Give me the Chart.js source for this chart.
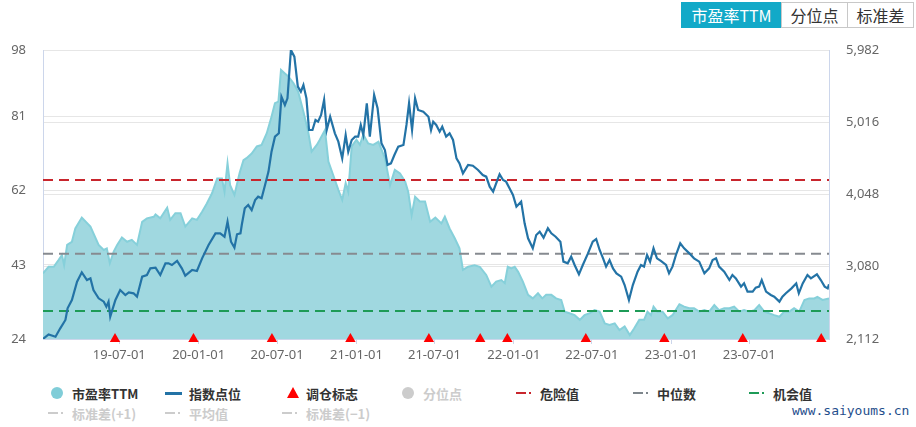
<!DOCTYPE html>
<html>
<head>
<meta charset="utf-8">
<script src="https://cdn.jsdelivr.net/npm/chart.js@4.4.0/dist/chart.umd.min.js"></script>
<style>
  body { margin: 0; width: 916px; height: 427px; background: #fff; position: relative; overflow: hidden;
         font-family: "Noto Sans CJK SC", "Noto Sans", sans-serif; }
  #wrap { position: absolute; left: 0; top: 0; width: 916px; height: 370px; }
  .tabs { position: absolute; left: 682px; top: 2px; display: flex; }
  .tab { height: 24px; line-height: 24px; border: 1px solid #c8c8c8; margin-left: -1px; text-align: center;
         font-size: 16px; color: #333; background: #fff; }
  .tab.on { background: #12a9c8; border-color: #12a9c8; color: #fff; }
  .lg { position: absolute; height: 18px; display: flex; align-items: center; font-size: 13px; font-weight: bold; color: #333; white-space: nowrap; }
  .lg.off { color: #ccc; }
  .mk { position: relative; width: 24px; height: 18px; flex: none; }
  .dot { position: absolute; left: 3px; top: 3px; width: 12px; height: 12px; border-radius: 50%; }
  .bar { position: absolute; left: 0; top: 8px; width: 17px; height: 3px; }
  .tri { position: absolute; left: 5px; top: 3px; width: 0; height: 0; border-left: 6px solid transparent;
         border-right: 6px solid transparent; border-bottom: 11px solid #f00; }
  .dash { position: absolute; left: 0; top: 8px; width: 10px; height: 2px; }
  .pt { position: absolute; left: 13px; top: 8px; width: 2px; height: 2px; }
  .wm { position: absolute; left: 792px; top: 403px; font: 13px "DejaVu Sans Mono", monospace; color: #1f4e8c; }
</style>
</head>
<body>
<div id="wrap"><canvas id="chart" width="916" height="370"></canvas></div>

<div class="tabs">
  <div class="tab on" style="width:99px">市盈率TTM</div>
  <div class="tab" style="width:65px">分位点</div>
  <div class="tab" style="width:65px">标准差</div>
</div>

<div class="lg" style="left:48px;top:384px"><span class="mk"><span class="dot" style="background:#80cdd8"></span></span>市盈率TTM</div>
<div class="lg" style="left:165px;top:384px"><span class="mk"><span class="bar" style="background:#2373a6"></span></span>指数点位</div>
<div class="lg" style="left:282px;top:384px"><span class="mk"><span class="tri"></span></span>调仓标志</div>
<div class="lg off" style="left:399px;top:384px"><span class="mk"><span class="dot" style="background:#ccc"></span></span>分位点</div>
<div class="lg" style="left:516px;top:384px"><span class="mk"><span class="dash" style="background:#c8262d"></span><span class="pt" style="background:#c8262d"></span></span>危险值</div>
<div class="lg" style="left:633px;top:384px"><span class="mk"><span class="dash" style="background:#7e868c"></span><span class="pt" style="background:#7e868c"></span></span>中位数</div>
<div class="lg" style="left:749px;top:384px"><span class="mk"><span class="dash" style="background:#1e9b57"></span><span class="pt" style="background:#1e9b57"></span></span>机会值</div>
<div class="lg off" style="left:48px;top:404px"><span class="mk"><span class="dash" style="background:#ccc"></span><span class="pt" style="background:#ccc"></span></span>标准差(+1)</div>
<div class="lg off" style="left:165px;top:404px"><span class="mk"><span class="dash" style="background:#ccc"></span><span class="pt" style="background:#ccc"></span></span>平均值</div>
<div class="lg off" style="left:282px;top:404px"><span class="mk"><span class="dash" style="background:#ccc"></span><span class="pt" style="background:#ccc"></span></span>标准差(−1)</div>
<div class="wm">www.saiyoums.cn</div>

<script>
// PE TTM (left axis)
const peDates = [
  '2019-01-05','2019-01-18','2019-01-30','2019-02-10','2019-02-18','2019-02-23','2019-03-02','2019-03-13','2019-03-21','2019-04-05',
  '2019-04-25','2019-05-14','2019-05-26','2019-06-02','2019-06-09','2019-06-18','2019-06-26','2019-07-07','2019-07-19','2019-07-30',
  '2019-08-11','2019-08-23','2019-09-03','2019-09-19','2019-09-23','2019-10-04','2019-10-20','2019-10-27','2019-11-08','2019-11-20',
  '2019-12-01','2019-12-17','2019-12-28','2020-01-09','2020-01-20','2020-02-01','2020-02-13','2020-02-24','2020-03-01','2020-03-08',
  '2020-03-14','2020-03-24','2020-04-05','2020-04-14','2020-04-21','2020-05-03','2020-05-15','2020-05-26','2020-06-07','2020-06-18',
  '2020-06-26','2020-07-04','2020-07-10','2020-07-19','2020-07-27','2020-08-08','2020-08-19','2020-08-31','2020-09-11','2020-09-19',
  '2020-10-01','2020-10-08','2020-10-20','2020-10-28','2020-11-08','2020-11-20','2020-11-29','2020-12-07','2020-12-13','2020-12-21',
  '2021-01-01','2021-01-09','2021-01-17','2021-01-28','2021-02-09','2021-02-21','2021-03-08','2021-03-20','2021-03-31','2021-04-12',
  '2021-04-24','2021-05-01','2021-05-09','2021-05-17','2021-05-28','2021-06-09','2021-06-21','2021-07-03','2021-07-17','2021-07-25',
  '2021-08-05','2021-08-17','2021-08-28','2021-09-05','2021-09-17','2021-10-02','2021-10-14','2021-10-29','2021-11-10','2021-11-21',
  '2021-12-03','2021-12-11','2021-12-18','2021-12-26','2022-01-03','2022-01-11','2022-01-22','2022-02-03','2022-02-14','2022-02-26',
  '2022-03-08','2022-03-17','2022-03-29','2022-04-09','2022-04-21','2022-04-29','2022-05-10','2022-05-22','2022-06-03','2022-06-14',
  '2022-06-26','2022-07-07','2022-07-19','2022-07-31','2022-08-11','2022-08-23','2022-09-03','2022-09-15','2022-09-27','2022-10-07',
  '2022-10-19','2022-10-30','2022-11-07','2022-11-15','2022-11-21','2022-11-30','2022-12-12','2022-12-24','2023-01-04','2023-01-20',
  '2023-01-31','2023-02-12','2023-02-23','2023-03-07','2023-03-19','2023-03-30','2023-04-11','2023-04-22','2023-05-04','2023-05-16',
  '2023-05-27','2023-06-08','2023-06-19','2023-07-01','2023-07-13','2023-07-24','2023-08-05','2023-08-16','2023-08-28','2023-09-09',
  '2023-09-20','2023-10-02','2023-10-13','2023-10-25','2023-11-06','2023-11-17','2023-11-29','2023-12-06','2023-12-18','2024-01-02'
];
const peValues = [
  40.8,42.5,42.5,44.2,45.5,42.9,48.1,48.9,52.3,55.1,
  52.8,48.1,46.8,47.2,43.4,46.4,48.1,50.0,48.9,49.4,
  48.1,54.0,54.9,55.3,55.9,54.9,57.6,54.5,56.2,56.2,
  52.8,54.9,54.5,56.6,58.7,61.3,65.1,65.1,61.7,69.0,
  63.4,60.9,66.5,69.8,70.3,71.5,73.3,73.7,76.7,80.9,
  84.4,84.8,92.9,92.0,91.2,89.5,87.3,82.2,77.1,72.0,
  73.7,75.0,77.5,69.4,66.0,62.2,59.6,63.9,61.7,73.3,
  75.0,73.7,76.3,74.1,73.7,74.5,70.3,63.4,67.3,66.4,
  64.3,61.7,55.7,60.4,59.2,59.2,54.0,55.1,53.6,55.3,
  52.3,49.8,47.2,41.7,42.5,42.9,42.5,40.4,37.4,38.7,
  39.1,38.3,42.5,42.1,42.5,41.2,38.7,35.3,34.4,35.7,
  34.4,35.3,35.3,34.4,34.0,31.0,30.6,30.1,28.9,30.1,
  30.6,31.4,31.0,28.0,27.6,28.0,26.3,27.2,25.0,26.7,
  28.9,28.9,31.0,30.1,32.3,31.0,31.0,29.3,30.1,32.9,
  32.3,31.9,31.9,31.0,31.4,31.0,32.7,31.4,31.9,31.9,
  32.3,31.0,31.4,31.0,31.4,32.7,31.0,30.6,30.1,29.7,
  31.0,31.0,31.9,31.0,34.0,34.4,34.4,34.8,34.0,34.4
];

// index level (right axis)
const idxDates = [
  '2019-01-05','2019-01-18','2019-02-03','2019-02-14','2019-02-26','2019-03-03','2019-03-13','2019-03-25','2019-04-05','2019-04-17',
  '2019-04-25','2019-05-02','2019-05-14','2019-05-26','2019-06-01','2019-06-06','2019-06-10','2019-06-22','2019-07-03','2019-07-15',
  '2019-07-23','2019-08-03','2019-08-11','2019-08-23','2019-09-03','2019-09-11','2019-09-23','2019-10-04','2019-10-16','2019-10-23',
  '2019-10-31','2019-11-12','2019-11-23','2019-12-01','2019-12-17','2019-12-28','2020-01-09','2020-01-24','2020-02-09','2020-02-20',
  '2020-03-01','2020-03-08','2020-03-16','2020-03-24','2020-03-30','2020-04-07','2020-04-10','2020-04-17','2020-04-25','2020-05-03',
  '2020-05-11','2020-05-18','2020-05-26','2020-06-03','2020-06-11','2020-06-18','2020-06-26','2020-07-05','2020-07-11','2020-07-19',
  '2020-07-25','2020-08-02','2020-08-10','2020-08-18','2020-08-25','2020-08-31','2020-09-07','2020-09-13','2020-09-21','2020-09-28',
  '2020-10-04','2020-10-11','2020-10-18','2020-10-24','2020-11-01','2020-11-12','2020-11-20','2020-11-29','2020-12-07','2020-12-13',
  '2020-12-21','2020-12-29','2021-01-05','2021-01-11','2021-01-17','2021-01-25','2021-02-01','2021-02-11','2021-02-19','2021-02-28',
  '2021-03-08','2021-03-14','2021-03-22','2021-03-30','2021-04-08','2021-04-20','2021-04-27','2021-05-03','2021-05-10','2021-05-17',
  '2021-05-24','2021-06-05','2021-06-17','2021-06-23','2021-06-28','2021-07-05','2021-07-13','2021-07-19','2021-07-28','2021-08-05',
  '2021-08-13','2021-08-21','2021-08-28','2021-09-05','2021-09-17','2021-09-28','2021-10-10','2021-10-21','2021-10-29','2021-11-06',
  '2021-11-14','2021-11-21','2021-11-29','2021-12-07','2021-12-14','2021-12-22','2021-12-30','2022-01-07','2022-01-18','2022-01-26',
  '2022-02-03','2022-02-14','2022-02-22','2022-03-02','2022-03-11','2022-03-21','2022-03-29','2022-04-08','2022-04-19','2022-04-26',
  '2022-05-06','2022-05-14','2022-05-22','2022-06-01','2022-06-10','2022-06-22','2022-07-03','2022-07-11','2022-07-19','2022-07-27',
  '2022-08-03','2022-08-11','2022-08-19','2022-08-27','2022-09-07','2022-09-15','2022-09-25','2022-10-04','2022-10-15','2022-10-23',
  '2022-10-30','2022-11-06','2022-11-13','2022-11-21','2022-11-29','2022-12-08','2022-12-20','2022-12-27','2023-01-04','2023-01-12',
  '2023-01-22','2023-01-31','2023-02-12','2023-02-23','2023-03-07','2023-03-19','2023-03-30','2023-04-07','2023-04-15','2023-04-22',
  '2023-05-04','2023-05-16','2023-05-23','2023-05-31','2023-06-12','2023-06-19','2023-06-27','2023-07-09','2023-07-16','2023-07-24',
  '2023-07-30','2023-08-09','2023-08-20','2023-08-28','2023-09-09','2023-09-16','2023-09-24','2023-10-07','2023-10-18','2023-10-24',
  '2023-11-02','2023-11-13','2023-11-21','2023-12-05','2023-12-14','2023-12-23','2023-12-30','2024-01-02'
];
const idxValues = [
  2112,2174,2143,2255,2367,2523,2634,2880,3005,2902,
  2924,2768,2657,2612,2545,2612,2411,2634,2768,2701,
  2737,2724,2679,2947,2969,3058,3067,2969,3125,3125,
  3103,3157,3058,2960,3036,3023,3192,3371,3527,3527,
  3482,3683,3415,3335,3514,3527,3639,3862,3906,3839,
  3973,4018,3996,4174,4353,4621,4821,4866,5357,5246,
  5335,5982,5893,5491,5424,5513,5335,4911,4911,5045,
  5022,5112,5314,4911,5089,4866,4754,4531,4844,4621,
  4777,4822,4822,4978,4844,5268,4822,5379,5201,4732,
  4643,4442,4464,4576,4688,4710,4978,5268,4911,5335,
  5179,5156,5089,4911,5022,4978,4888,4955,4822,4866,
  4777,4531,4464,4330,4442,4433,4375,4308,4286,4152,
  4085,4197,4317,4241,4219,4130,4040,3884,3951,3661,
  3460,3326,3505,3549,3469,3594,3527,3482,3415,3148,
  3125,3215,3103,2978,3103,3259,3415,3451,3304,3192,
  3081,3170,3058,2991,2947,2835,2634,2835,3014,3103,
  3081,3237,3148,3326,3192,3157,3103,2991,3081,3237,
  3393,3326,3259,3192,3148,2991,3058,3170,3192,3081,
  3014,2902,2969,2924,2813,2857,2746,2746,2799,2813,
  2902,2746,2701,2679,2612,2679,2724,2790,2857,2724,
  2857,2969,2924,2978,2902,2813,2790,2844
];

// rebalance markers
const rebalanceDates = [
  '2019-06-21','2019-12-20','2020-06-19','2020-12-18','2021-06-18','2021-10-15',
  '2021-12-17','2022-06-17','2022-12-16','2023-06-16','2023-12-15'
];

const dangerValue = 64.7;
const medianValue = 45.8;
const chanceValue = 31.2;

const peTicks = [24, 43, 62, 81, 98];
const idxTicks = [2112, 3080, 4048, 5016, 5982];
const xTickDates = ['2019-07-01','2020-01-01','2020-07-01','2021-01-01','2021-07-01','2022-01-01','2022-07-01','2023-01-01','2023-07-01'];
const xTickLabels = ['19-07-01','20-01-01','20-07-01','21-01-01','21-07-01','22-01-01','22-07-01','23-01-01','23-07-01'];
const xStart = '2019-01-05';
const xEnd = '2024-01-02';

// days since 2019-01-01
const toDay = (s) => {
  const [y, m, d] = s.split('-').map(Number);
  return (Date.UTC(y, m - 1, d) - Date.UTC(2019, 0, 1)) / 864e5;
};
const pairs = (dates, vals) => dates.map((d, i) => ({ x: toDay(d), y: vals[i] }));
const hline = (v) => [{ x: toDay(xStart), y: v }, { x: toDay(xEnd), y: v }];

const tickFont = { family: '"Noto Sans", "Noto Sans CJK SC", sans-serif', size: 13 };

new Chart(document.getElementById('chart'), {
  type: 'line',
  data: {
    datasets: [
      {
        label: '调仓标志',
        data: rebalanceDates.map(d => ({ x: toDay(d), y: peTicks[0] })),
        showLine: false,
        pointStyle: 'triangle',
        pointRadius: 6,
        pointBackgroundColor: '#ff0000',
        pointBorderWidth: 0,
        yAxisID: 'y',
        clip: false
      },
      {
        label: '指数点位',
        data: pairs(idxDates, idxValues),
        borderColor: '#2373a6',
        borderWidth: 2.2,
        pointRadius: 0,
        tension: 0,
        yAxisID: 'y1'
      },
      {
        label: '危险值',
        data: hline(dangerValue),
        borderColor: '#c8262d',
        borderWidth: 2,
        borderDash: [10, 6],
        pointRadius: 0,
        yAxisID: 'y'
      },
      {
        label: '中位数',
        data: hline(medianValue),
        borderColor: '#868a90',
        borderWidth: 2,
        borderDash: [10, 6],
        pointRadius: 0,
        yAxisID: 'y'
      },
      {
        label: '机会值',
        data: hline(chanceValue),
        borderColor: '#1e9b57',
        borderWidth: 2,
        borderDash: [10, 6],
        pointRadius: 0,
        yAxisID: 'y'
      },
      {
        label: '市盈率TTM',
        data: pairs(peDates, peValues),
        borderColor: '#86d0da',
        backgroundColor: '#a0d8e0',
        borderWidth: 2,
        fill: 'start',
        pointRadius: 0,
        tension: 0,
        yAxisID: 'y'
      }
    ]
  },
  options: {
    responsive: false,
    animation: false,
    layout: { padding: { top: 50, left: 0, right: 0, bottom: 0 } },
    plugins: {
      legend: { display: false },
      tooltip: { enabled: false }
    },
    scales: {
      x: {
        type: 'linear',
        min: toDay(xStart),
        max: toDay(xEnd),
        afterBuildTicks: (scale) => { scale.ticks = xTickDates.map(d => ({ value: toDay(d) })); },
        afterFit: (scale) => { scale.height = 31; },
        ticks: {
          autoSkip: false,
          maxRotation: 0,
          padding: 3,
          color: '#666',
          font: tickFont,
          callback: (v, i) => xTickLabels[i]
        },
        grid: { drawOnChartArea: false, drawTicks: true, tickLength: 5, color: '#ccd6eb' },
        border: { color: '#ccd6eb' }
      },
      y: {
        position: 'left',
        min: peTicks[0],
        max: peTicks[peTicks.length - 1],
        afterBuildTicks: (scale) => { scale.ticks = peTicks.map(v => ({ value: v })); },
        afterFit: (scale) => { scale.width = 43; },
        ticks: { padding: 17, color: '#666', font: tickFont },
        grid: { color: '#e6e6e6', drawTicks: false },
        border: { color: '#ccd6eb' }
      },
      y1: {
        position: 'right',
        min: idxTicks[0],
        max: idxTicks[idxTicks.length - 1],
        afterBuildTicks: (scale) => { scale.ticks = idxTicks.map(v => ({ value: v })); },
        afterFit: (scale) => { scale.width = 87; },
        ticks: { padding: 17, color: '#666', font: tickFont, callback: (v) => v.toLocaleString('en-US') },
        grid: { color: '#e6e6e6', drawTicks: false },
        border: { color: '#ccd6eb' }
      }
    }
  }
});
</script>
</body>
</html>
